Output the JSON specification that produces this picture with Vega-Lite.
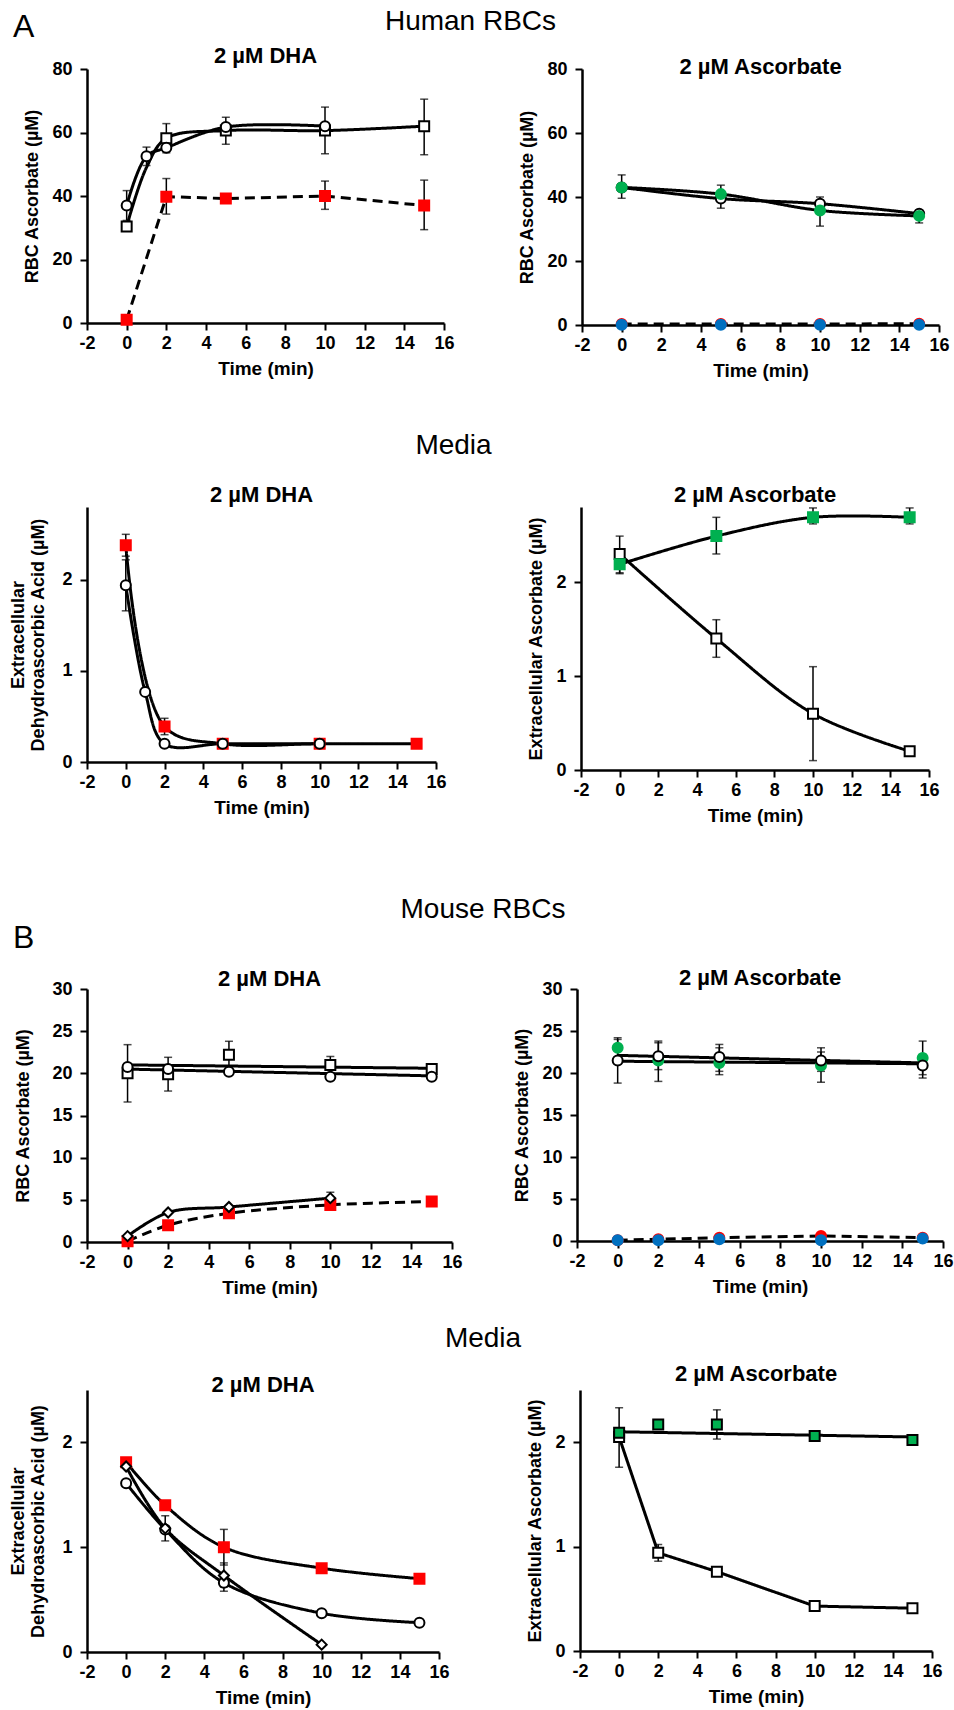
{
"$schema": "https://vega.github.io/schema/vega-lite/v6.json",
"background": "white",
"padding": {"left": 9, "top": 8, "right": 2, "bottom": 2},
"config": {
 "font": "Liberation Sans",
 "view": {"stroke": null},
 "axis": {"grid": false, "domainColor": "black", "domainWidth": 2.5, "tickColor": "black", "tickWidth": 2, "tickSize": 7,
  "labelFont": "Liberation Sans", "labelFontSize": 18, "labelFontWeight": "bold", "labelColor": "black", "labelFlush": false, "labelOverlap": false,
  "labelExpr": "'' + datum.value",
  "titleFont": "Liberation Sans", "titleFontSize": 18, "titleFontWeight": "bold", "titleColor": "black", "titleLineHeight": 20},
 "axisX": {"labelPadding": 4, "titlePadding": 7, "titleFontSize": 19},
 "axisY": {"labelPadding": 8, "titlePadding": 10},
 "title": {"font": "Liberation Sans", "fontSize": 22, "fontWeight": "bold", "color": "black", "offset": 3}
},
"datasets": {"d": [
 {"p":1,"s":"os","t":0,"y":30.4,"m":1,"l":"1os","i":"s","d":"solid"},
 {"p":1,"s":"os","t":1,"y":49,"m":0,"l":"1os","i":"s","d":"solid"},
 {"p":1,"s":"os","t":2,"y":58.2,"lo":53.6,"hi":62.8,"m":1,"l":"1os","i":"s","d":"solid"},
 {"p":1,"s":"os","t":5,"y":60.6,"lo":56.3,"hi":64.8,"m":1,"l":"1os","i":"s","d":"solid"},
 {"p":1,"s":"os","t":10,"y":60.6,"lo":53.3,"hi":68,"m":1,"l":"1os","i":"s","d":"solid"},
 {"p":1,"s":"os","t":15,"y":62,"lo":53,"hi":70.5,"m":1,"l":"1os","i":"s","d":"solid"},
 {"p":1,"s":"oc","t":0,"y":37,"lo":32.3,"hi":41.7,"m":1,"l":"1oc","i":"s","d":"solid"},
 {"p":1,"s":"oc","t":1,"y":52.5,"lo":49.6,"hi":55.4,"m":1,"l":"1oc","i":"s","d":"solid"},
 {"p":1,"s":"oc","t":2,"y":55.2,"m":1,"l":"1oc","i":"s","d":"solid"},
 {"p":1,"s":"oc","t":5,"y":61.7,"m":1,"l":"1oc","i":"s","d":"solid"},
 {"p":1,"s":"oc","t":10,"y":62,"m":1,"l":"1oc","i":"s","d":"solid"},
 {"p":1,"s":"rs","t":0,"y":1,"m":1,"l":"1rs","i":"l","d":"dash"},
 {"p":1,"s":"rs","t":2,"y":39.8,"lo":34.3,"hi":45.5,"m":1,"l":"1rs","i":"l","d":"dash"},
 {"p":1,"s":"rs","t":5,"y":39.2,"m":1,"l":"1rs","i":"l","d":"dash"},
 {"p":1,"s":"rs","t":10,"y":40,"lo":35.8,"hi":44.7,"m":1,"l":"1rs","i":"l","d":"dash"},
 {"p":1,"s":"rs","t":15,"y":37,"lo":29.4,"hi":45,"m":1,"l":"1rs","i":"l","d":"dash"},

 {"p":2,"s":"oc","t":0,"y":43,"m":1,"l":"2oc","i":"s","d":"solid"},
 {"p":2,"s":"oc","t":5,"y":39.5,"m":1,"l":"2oc","i":"s","d":"solid"},
 {"p":2,"s":"oc","t":10,"y":37.9,"m":1,"l":"2oc","i":"s","d":"solid"},
 {"p":2,"s":"oc","t":15,"y":34.8,"m":1,"l":"2oc","i":"s","d":"solid"},
 {"p":2,"s":"gc","t":0,"y":43,"lo":39.6,"hi":46.9,"m":1,"l":"2gc","i":"s","d":"solid"},
 {"p":2,"s":"gc","t":5,"y":40.9,"lo":36.5,"hi":43.7,"m":1,"l":"2gc","i":"s","d":"solid"},
 {"p":2,"s":"gc","t":10,"y":35.8,"lo":30.9,"hi":40,"m":1,"l":"2gc","i":"s","d":"solid"},
 {"p":2,"s":"gc","t":15,"y":34.1,"lo":31.9,"hi":35.8,"m":1,"l":"2gc","i":"s","d":"solid"},
 {"p":2,"s":"rc","t":0,"y":0.3,"m":1,"l":"2rc","i":"l","d":"dash"},
 {"p":2,"s":"rc","t":5,"y":0.3,"m":1,"l":"2rc","i":"l","d":"dash"},
 {"p":2,"s":"rc","t":10,"y":0.3,"m":1,"l":"2rc","i":"l","d":"dash"},
 {"p":2,"s":"rc","t":15,"y":0.4,"m":1,"l":"2rc","i":"l","d":"dash"},
 {"p":2,"s":"bc","t":0,"y":0.1,"m":1},
 {"p":2,"s":"bc","t":5,"y":0.1,"m":1},
 {"p":2,"s":"bc","t":10,"y":0.1,"m":1},
 {"p":2,"s":"bc","t":15,"y":0.1,"m":1},

 {"p":3,"s":"rs","t":0,"y":2.38,"lo":2.26,"hi":2.5,"m":1,"l":"3rs","i":"s","d":"solid"},
 {"p":3,"s":"rs","t":2,"y":0.39,"lo":0.3,"hi":0.48,"m":1,"l":"3rs","i":"s","d":"solid"},
 {"p":3,"s":"rs","t":5,"y":0.2,"m":1,"l":"3rs","i":"s","d":"solid"},
 {"p":3,"s":"rs","t":10,"y":0.2,"m":1,"l":"3rs","i":"s","d":"solid"},
 {"p":3,"s":"rs","t":15,"y":0.2,"m":1,"l":"3rs","i":"s","d":"solid"},
 {"p":3,"s":"oc","t":0,"y":1.94,"lo":1.66,"hi":2.22,"m":1,"l":"3oc","i":"s","d":"solid"},
 {"p":3,"s":"oc","t":1,"y":0.77,"m":1,"l":"3oc","i":"s","d":"solid"},
 {"p":3,"s":"oc","t":2,"y":0.2,"m":1,"l":"3oc","i":"s","d":"solid"},
 {"p":3,"s":"oc","t":5,"y":0.2,"m":1,"l":"3oc","i":"s","d":"solid"},
 {"p":3,"s":"oc","t":10,"y":0.2,"m":1,"l":"3oc","i":"s","d":"solid"},

 {"p":4,"s":"os","t":0,"y":2.3,"lo":2.1,"hi":2.49,"m":1,"l":"4os","i":"s","d":"solid"},
 {"p":4,"s":"os","t":5,"y":1.4,"lo":1.2,"hi":1.6,"m":1,"l":"4os","i":"s","d":"solid"},
 {"p":4,"s":"os","t":10,"y":0.6,"lo":0.1,"hi":1.1,"m":1,"l":"4os","i":"s","d":"solid"},
 {"p":4,"s":"os","t":15,"y":0.2,"m":1,"l":"4os","i":"s","d":"solid"},
 {"p":4,"s":"gs","t":0,"y":2.19,"lo":2.09,"hi":2.29,"m":1,"l":"4gs","i":"s","d":"solid"},
 {"p":4,"s":"gs","t":5,"y":2.49,"lo":2.3,"hi":2.69,"m":1,"l":"4gs","i":"s","d":"solid"},
 {"p":4,"s":"gs","t":10,"y":2.69,"lo":2.62,"hi":2.79,"m":1,"l":"4gs","i":"s","d":"solid"},
 {"p":4,"s":"gs","t":15,"y":2.69,"lo":2.62,"hi":2.79,"m":1,"l":"4gs","i":"s","d":"solid"},

 {"p":5,"s":"os","t":0,"y":21.0,"m":0,"l":"5a","i":"l","d":"solid"},
 {"p":5,"s":"os","t":15,"y":20.6,"m":0,"l":"5a","i":"l","d":"solid"},
 {"p":5,"s":"oc","t":0,"y":20.5,"m":0,"l":"5b","i":"l","d":"solid"},
 {"p":5,"s":"oc","t":15,"y":19.7,"m":0,"l":"5b","i":"l","d":"solid"},
 {"p":5,"s":"os","t":0,"y":20,"lo":16.6,"hi":23.4,"m":1},
 {"p":5,"s":"os","t":2,"y":19.9,"lo":17.9,"hi":21.9,"m":1},
 {"p":5,"s":"os","t":5,"y":22.2,"lo":20.6,"hi":23.8,"m":1},
 {"p":5,"s":"os","t":10,"y":21,"lo":20,"hi":22,"m":1},
 {"p":5,"s":"os","t":15,"y":20.5,"m":1},
 {"p":5,"s":"oc","t":0,"y":20.75,"m":1},
 {"p":5,"s":"oc","t":2,"y":20.5,"m":1},
 {"p":5,"s":"oc","t":5,"y":20.2,"m":1},
 {"p":5,"s":"oc","t":10,"y":19.6,"m":1},
 {"p":5,"s":"oc","t":15,"y":19.6,"m":1},
 {"p":5,"s":"rs","t":0,"y":0.1,"m":1,"l":"5rs","i":"s","d":"dash"},
 {"p":5,"s":"rs","t":2,"y":2.0,"m":1,"l":"5rs","i":"s","d":"dash"},
 {"p":5,"s":"rs","t":5,"y":3.4,"m":1,"l":"5rs","i":"s","d":"dash"},
 {"p":5,"s":"rs","t":10,"y":4.4,"m":1,"l":"5rs","i":"s","d":"dash"},
 {"p":5,"s":"rs","t":15,"y":4.8,"m":1,"l":"5rs","i":"s","d":"dash"},
 {"p":5,"s":"od","t":0,"y":0.7,"m":1,"l":"5od","i":"s","d":"solid"},
 {"p":5,"s":"od","t":2,"y":3.5,"m":1,"l":"5od","i":"s","d":"solid"},
 {"p":5,"s":"od","t":5,"y":4.15,"m":1,"l":"5od","i":"s","d":"solid"},
 {"p":5,"s":"od","t":10,"y":5.2,"lo":4.5,"hi":5.9,"m":1,"l":"5od","i":"s","d":"solid"},

 {"p":6,"s":"gc","t":0,"y":22.1,"m":0,"l":"6a","i":"l","d":"solid"},
 {"p":6,"s":"gc","t":15,"y":21.2,"m":0,"l":"6a","i":"l","d":"solid"},
 {"p":6,"s":"oc","t":0,"y":21.4,"m":0,"l":"6b","i":"l","d":"solid"},
 {"p":6,"s":"oc","t":15,"y":21.1,"m":0,"l":"6b","i":"l","d":"solid"},
 {"p":6,"s":"gc","t":0,"y":23.0,"lo":21.8,"hi":24.2,"m":1},
 {"p":6,"s":"gc","t":2,"y":21.5,"lo":19.0,"hi":23.8,"m":1},
 {"p":6,"s":"gc","t":5,"y":21.2,"lo":19.8,"hi":23.4,"m":1},
 {"p":6,"s":"gc","t":10,"y":20.9,"lo":18.9,"hi":23.0,"m":1},
 {"p":6,"s":"gc","t":15,"y":21.8,"lo":19.8,"hi":23.8,"m":1},
 {"p":6,"s":"oc","t":0,"y":21.5,"lo":18.8,"hi":24.0,"m":1},
 {"p":6,"s":"oc","t":2,"y":22.0,"lo":20.4,"hi":23.6,"m":1},
 {"p":6,"s":"oc","t":5,"y":21.9,"lo":20.2,"hi":23.0,"m":1},
 {"p":6,"s":"oc","t":10,"y":21.5,"lo":20.2,"hi":22.5,"m":1},
 {"p":6,"s":"oc","t":15,"y":20.9,"lo":19.4,"hi":22.2,"m":1},
 {"p":6,"s":"rc","t":0,"y":0.1,"m":1,"l":"6rc","i":"l","d":"dash"},
 {"p":6,"s":"rc","t":2,"y":0.2,"m":1,"l":"6rc","i":"l","d":"dash"},
 {"p":6,"s":"rc","t":5,"y":0.4,"m":1,"l":"6rc","i":"l","d":"dash"},
 {"p":6,"s":"rc","t":10,"y":0.6,"m":1,"l":"6rc","i":"l","d":"dash"},
 {"p":6,"s":"rc","t":15,"y":0.4,"m":1,"l":"6rc","i":"l","d":"dash"},
 {"p":6,"s":"bc","t":0,"y":0.1,"m":1},
 {"p":6,"s":"bc","t":2,"y":0.1,"m":1},
 {"p":6,"s":"bc","t":5,"y":0.2,"m":1},
 {"p":6,"s":"bc","t":10,"y":0.1,"m":1},
 {"p":6,"s":"bc","t":15,"y":0.3,"m":1},

 {"p":7,"s":"rs","t":0,"y":1.81,"m":1,"l":"7rs","i":"s","d":"solid"},
 {"p":7,"s":"rs","t":2,"y":1.40,"m":1,"l":"7rs","i":"s","d":"solid"},
 {"p":7,"s":"rs","t":5,"y":1.0,"lo":0.83,"hi":1.17,"m":1,"l":"7rs","i":"s","d":"solid"},
 {"p":7,"s":"rs","t":10,"y":0.80,"m":1,"l":"7rs","i":"s","d":"solid"},
 {"p":7,"s":"rs","t":15,"y":0.70,"m":1,"l":"7rs","i":"s","d":"solid"},
 {"p":7,"s":"oc","t":0,"y":1.61,"m":1,"l":"7oc","i":"s","d":"solid"},
 {"p":7,"s":"oc","t":2,"y":1.17,"lo":1.06,"hi":1.30,"m":1,"l":"7oc","i":"s","d":"solid"},
 {"p":7,"s":"oc","t":5,"y":0.66,"lo":0.58,"hi":0.74,"m":1,"l":"7oc","i":"s","d":"solid"},
 {"p":7,"s":"oc","t":10,"y":0.37,"m":1,"l":"7oc","i":"s","d":"solid"},
 {"p":7,"s":"oc","t":15,"y":0.28,"m":1,"l":"7oc","i":"s","d":"solid"},
 {"p":7,"s":"od","t":0,"y":1.77,"m":1,"l":"7od","i":"s","d":"solid"},
 {"p":7,"s":"od","t":2,"y":1.18,"m":1,"l":"7od","i":"s","d":"solid"},
 {"p":7,"s":"od","t":5,"y":0.73,"lo":0.62,"hi":0.85,"m":1,"l":"7od","i":"s","d":"solid"},
 {"p":7,"s":"od","t":10,"y":0.07,"m":1,"l":"7od","i":"s","d":"solid"},

 {"p":8,"s":"os","t":0,"y":2.05,"lo":1.76,"hi":2.33,"m":1,"l":"8os","i":"l","d":"solid"},
 {"p":8,"s":"os","t":2,"y":0.94,"lo":0.86,"hi":1.02,"m":1,"l":"8os","i":"l","d":"solid"},
 {"p":8,"s":"os","t":5,"y":0.76,"m":1,"l":"8os","i":"l","d":"solid"},
 {"p":8,"s":"os","t":10,"y":0.43,"m":1,"l":"8os","i":"l","d":"solid"},
 {"p":8,"s":"os","t":15,"y":0.41,"m":1,"l":"8os","i":"l","d":"solid"},
 {"p":8,"s":"gsb","t":0,"y":2.1,"m":0,"l":"8g","i":"l","d":"solid"},
 {"p":8,"s":"gsb","t":15,"y":2.05,"m":0,"l":"8g","i":"l","d":"solid"},
 {"p":8,"s":"gsb","t":0,"y":2.09,"m":1},
 {"p":8,"s":"gsb","t":2,"y":2.17,"lo":2.14,"hi":2.2,"m":1},
 {"p":8,"s":"gsb","t":5,"y":2.17,"lo":2.03,"hi":2.31,"m":1},
 {"p":8,"s":"gsb","t":10,"y":2.06,"m":1},
 {"p":8,"s":"gsb","t":15,"y":2.02,"m":1}
]},
"spacing": 71,
"vconcat": [
 {
  "title": {"text": "A", "anchor": "start", "fontSize": 32, "fontWeight": "normal", "offset": -36, "dx": 3},
  "spacing": 52,
  "vconcat": [
   {
    "title": {"text": "Human RBCs", "anchor": "middle", "fontSize": 28, "fontWeight": "normal", "offset": 9, "dx": -16},
    "bounds": "flush",
    "spacing": 138,
    "hconcat": [
     {
      "width": 357, "height": 254,
      "title": {"text": "2 µM DHA", "offset": -8},
      "data": {"name": "d"},
      "transform": [{"filter": "datum.p == 1"}],
      "encoding": {
       "x": {"field": "t", "type": "quantitative", "scale": {"domain": [-2, 16], "nice": false, "zero": false}, "axis": {"values": [-2,0,2,4,6,8,10,12,14,16], "title": "Time (min)"}},
       "y": {"field": "y", "type": "quantitative", "scale": {"domain": [0, 80], "nice": false}, "axis": {"values": [0,20,40,60,80], "title": "RBC Ascorbate (µM)", "titlePadding": 10}}
      },
      "layer": [
       {"transform": [{"filter": "datum.l != null && datum.i == 's'"}], "mark": {"type": "line", "interpolate": "catmull-rom", "color": "black", "strokeWidth": 3}, "encoding": {"detail": {"field": "l"}, "strokeDash": {"field": "d", "type": "nominal", "scale": {"domain": ["solid", "dash"], "range": [[1, 0], [10, 6]]}, "legend": null}}},
       {"transform": [{"filter": "datum.l != null && datum.i == 'l'"}], "mark": {"type": "line", "color": "black", "strokeWidth": 3}, "encoding": {"detail": {"field": "l"}, "strokeDash": {"field": "d", "type": "nominal", "scale": {"domain": ["solid", "dash"], "range": [[1, 0], [10, 6]]}, "legend": null}}},
       {"transform": [{"filter": "datum.lo != null"}], "mark": {"type": "rule", "color": "black", "strokeWidth": 1.5}, "encoding": {"y": {"field": "lo", "type": "quantitative", "scale": {"domain": [0, 80], "nice": false}, "axis": {"values": [0,20,40,60,80], "title": "RBC Ascorbate (µM)", "titlePadding": 10}}, "y2": {"field": "hi"}}},
       {"transform": [{"filter": "datum.lo != null"}], "mark": {"type": "tick", "orient": "horizontal", "color": "black", "size": 8, "thickness": 1.5}, "encoding": {"y": {"field": "lo", "type": "quantitative", "scale": {"domain": [0, 80], "nice": false}, "axis": {"values": [0,20,40,60,80], "title": "RBC Ascorbate (µM)", "titlePadding": 10}}}},
       {"transform": [{"filter": "datum.lo != null"}], "mark": {"type": "tick", "orient": "horizontal", "color": "black", "size": 8, "thickness": 1.5}, "encoding": {"y": {"field": "hi", "type": "quantitative", "scale": {"domain": [0, 80], "nice": false}, "axis": {"values": [0,20,40,60,80], "title": "RBC Ascorbate (µM)", "titlePadding": 10}}}},
       {"transform": [{"filter": "datum.m == 1"}], "mark": {"type": "point", "filled": true, "opacity": 1, "strokeWidth": 2}, "encoding": {
         "shape": {"field": "s", "type": "nominal", "scale": {"domain": ["oc","os","od","rs","gc","gs","gsb","rc","bc"], "range": ["circle","square","diamond","square","circle","square","square","circle","circle"]}, "legend": null},
         "fill": {"field": "s", "type": "nominal", "scale": {"domain": ["oc","os","od","rs","gc","gs","gsb","rc","bc"], "range": ["white","white","white","#ff0000","#00b050","#00b050","#00b050","#ff0000","#0070c0"]}, "legend": null},
         "stroke": {"field": "s", "type": "nominal", "scale": {"domain": ["oc","os","od","rs","gc","gs","gsb","rc","bc"], "range": ["black","black","black","#ff0000","#00b050","#00b050","black","#ff0000","#0070c0"]}, "legend": null},
         "size": {"field": "s", "type": "ordinal", "scale": {"domain": ["oc","os","od","rs","gc","gs","gsb","rc","bc"], "range": [100,100,75,170,135,170,144,115,100]}, "legend": null}}}
      ]
     },
     {
      "width": 357, "height": 256,
      "title": {"text": "2 µM Ascorbate", "offset": -19},
      "data": {"name": "d"},
      "transform": [{"filter": "datum.p == 2"}],
      "encoding": {
       "x": {"field": "t", "type": "quantitative", "scale": {"domain": [-2, 16], "nice": false, "zero": false}, "axis": {"values": [-2,0,2,4,6,8,10,12,14,16], "title": "Time (min)"}},
       "y": {"field": "y", "type": "quantitative", "scale": {"domain": [0, 80], "nice": false}, "axis": {"values": [0,20,40,60,80], "title": "RBC Ascorbate (µM)"}}
      },
      "layer": [
       {"transform": [{"filter": "datum.l != null && datum.i == 's'"}], "mark": {"type": "line", "interpolate": "catmull-rom", "color": "black", "strokeWidth": 3}, "encoding": {"detail": {"field": "l"}, "strokeDash": {"field": "d", "type": "nominal", "scale": {"domain": ["solid", "dash"], "range": [[1, 0], [10, 6]]}, "legend": null}}},
       {"transform": [{"filter": "datum.l != null && datum.i == 'l'"}], "mark": {"type": "line", "color": "black", "strokeWidth": 3}, "encoding": {"detail": {"field": "l"}, "strokeDash": {"field": "d", "type": "nominal", "scale": {"domain": ["solid", "dash"], "range": [[1, 0], [10, 6]]}, "legend": null}}},
       {"transform": [{"filter": "datum.lo != null"}], "mark": {"type": "rule", "color": "black", "strokeWidth": 1.5}, "encoding": {"y": {"field": "lo", "type": "quantitative", "scale": {"domain": [0, 80], "nice": false}, "axis": {"values": [0,20,40,60,80], "title": "RBC Ascorbate (µM)"}}, "y2": {"field": "hi"}}},
       {"transform": [{"filter": "datum.lo != null"}], "mark": {"type": "tick", "orient": "horizontal", "color": "black", "size": 8, "thickness": 1.5}, "encoding": {"y": {"field": "lo", "type": "quantitative", "scale": {"domain": [0, 80], "nice": false}, "axis": {"values": [0,20,40,60,80], "title": "RBC Ascorbate (µM)"}}}},
       {"transform": [{"filter": "datum.lo != null"}], "mark": {"type": "tick", "orient": "horizontal", "color": "black", "size": 8, "thickness": 1.5}, "encoding": {"y": {"field": "hi", "type": "quantitative", "scale": {"domain": [0, 80], "nice": false}, "axis": {"values": [0,20,40,60,80], "title": "RBC Ascorbate (µM)"}}}},
       {"transform": [{"filter": "datum.m == 1"}], "mark": {"type": "point", "filled": true, "opacity": 1, "strokeWidth": 2}, "encoding": {
         "shape": {"field": "s", "type": "nominal", "scale": {"domain": ["oc","os","od","rs","gc","gs","gsb","rc","bc"], "range": ["circle","square","diamond","square","circle","square","square","circle","circle"]}, "legend": null},
         "fill": {"field": "s", "type": "nominal", "scale": {"domain": ["oc","os","od","rs","gc","gs","gsb","rc","bc"], "range": ["white","white","white","#ff0000","#00b050","#00b050","#00b050","#ff0000","#0070c0"]}, "legend": null},
         "stroke": {"field": "s", "type": "nominal", "scale": {"domain": ["oc","os","od","rs","gc","gs","gsb","rc","bc"], "range": ["black","black","black","#ff0000","#00b050","#00b050","black","#ff0000","#0070c0"]}, "legend": null},
         "size": {"field": "s", "type": "ordinal", "scale": {"domain": ["oc","os","od","rs","gc","gs","gsb","rc","bc"], "range": [100,100,75,170,135,170,144,115,100]}, "legend": null}}}
      ]
     }
    ]
   },
   {
    "title": {"text": "Media", "anchor": "middle", "fontSize": 28, "fontWeight": "normal", "offset": 24, "dx": -21},
    "bounds": "flush",
    "spacing": 145,
    "hconcat": [
     {
      "width": 349, "height": 255,
      "title": {"text": "2 µM DHA", "offset": 0},
      "data": {"name": "d"},
      "transform": [{"filter": "datum.p == 3"}],
      "encoding": {
       "x": {"field": "t", "type": "quantitative", "scale": {"domain": [-2, 16], "nice": false, "zero": false}, "axis": {"values": [-2,0,2,4,6,8,10,12,14,16], "title": "Time (min)"}},
       "y": {"field": "y", "type": "quantitative", "scale": {"domain": [0, 2.8], "nice": false}, "axis": {"values": [0,1,2], "title": ["Extracellular", "Dehydroascorbic Acid (µM)"], "titlePadding": 14}}
      },
      "layer": [
       {"transform": [{"filter": "datum.l != null && datum.i == 's'"}], "mark": {"type": "line", "interpolate": "catmull-rom", "color": "black", "strokeWidth": 3}, "encoding": {"detail": {"field": "l"}, "strokeDash": {"field": "d", "type": "nominal", "scale": {"domain": ["solid", "dash"], "range": [[1, 0], [10, 6]]}, "legend": null}}},
       {"transform": [{"filter": "datum.lo != null"}], "mark": {"type": "rule", "color": "black", "strokeWidth": 1.5}, "encoding": {"y": {"field": "lo", "type": "quantitative", "scale": {"domain": [0, 2.8], "nice": false}, "axis": {"values": [0,1,2], "title": ["Extracellular", "Dehydroascorbic Acid (µM)"], "titlePadding": 14}}, "y2": {"field": "hi"}}},
       {"transform": [{"filter": "datum.lo != null"}], "mark": {"type": "tick", "orient": "horizontal", "color": "black", "size": 8, "thickness": 1.5}, "encoding": {"y": {"field": "lo", "type": "quantitative", "scale": {"domain": [0, 2.8], "nice": false}, "axis": {"values": [0,1,2], "title": ["Extracellular", "Dehydroascorbic Acid (µM)"], "titlePadding": 14}}}},
       {"transform": [{"filter": "datum.lo != null"}], "mark": {"type": "tick", "orient": "horizontal", "color": "black", "size": 8, "thickness": 1.5}, "encoding": {"y": {"field": "hi", "type": "quantitative", "scale": {"domain": [0, 2.8], "nice": false}, "axis": {"values": [0,1,2], "title": ["Extracellular", "Dehydroascorbic Acid (µM)"], "titlePadding": 14}}}},
       {"transform": [{"filter": "datum.m == 1"}], "mark": {"type": "point", "filled": true, "opacity": 1, "strokeWidth": 2}, "encoding": {
         "shape": {"field": "s", "type": "nominal", "scale": {"domain": ["oc","os","od","rs","gc","gs","gsb","rc","bc"], "range": ["circle","square","diamond","square","circle","square","square","circle","circle"]}, "legend": null},
         "fill": {"field": "s", "type": "nominal", "scale": {"domain": ["oc","os","od","rs","gc","gs","gsb","rc","bc"], "range": ["white","white","white","#ff0000","#00b050","#00b050","#00b050","#ff0000","#0070c0"]}, "legend": null},
         "stroke": {"field": "s", "type": "nominal", "scale": {"domain": ["oc","os","od","rs","gc","gs","gsb","rc","bc"], "range": ["black","black","black","#ff0000","#00b050","#00b050","black","#ff0000","#0070c0"]}, "legend": null},
         "size": {"field": "s", "type": "ordinal", "scale": {"domain": ["oc","os","od","rs","gc","gs","gsb","rc","bc"], "range": [100,100,75,170,135,170,144,115,100]}, "legend": null}}}
      ]
     },
     {
      "width": 348, "height": 263,
      "title": {"text": "2 µM Ascorbate", "offset": 0},
      "data": {"name": "d"},
      "transform": [{"filter": "datum.p == 4"}],
      "encoding": {
       "x": {"field": "t", "type": "quantitative", "scale": {"domain": [-2, 16], "nice": false, "zero": false}, "axis": {"values": [-2,0,2,4,6,8,10,12,14,16], "title": "Time (min)"}},
       "y": {"field": "y", "type": "quantitative", "scale": {"domain": [0, 2.8], "nice": false}, "axis": {"values": [0,1,2], "title": "Extracellular Ascorbate (µM)"}}
      },
      "layer": [
       {"transform": [{"filter": "datum.l != null && datum.i == 's'"}], "mark": {"type": "line", "interpolate": "catmull-rom", "color": "black", "strokeWidth": 3}, "encoding": {"detail": {"field": "l"}, "strokeDash": {"field": "d", "type": "nominal", "scale": {"domain": ["solid", "dash"], "range": [[1, 0], [10, 6]]}, "legend": null}}},
       {"transform": [{"filter": "datum.lo != null"}], "mark": {"type": "rule", "color": "black", "strokeWidth": 1.5}, "encoding": {"y": {"field": "lo", "type": "quantitative", "scale": {"domain": [0, 2.8], "nice": false}, "axis": {"values": [0,1,2], "title": "Extracellular Ascorbate (µM)"}}, "y2": {"field": "hi"}}},
       {"transform": [{"filter": "datum.lo != null"}], "mark": {"type": "tick", "orient": "horizontal", "color": "black", "size": 8, "thickness": 1.5}, "encoding": {"y": {"field": "lo", "type": "quantitative", "scale": {"domain": [0, 2.8], "nice": false}, "axis": {"values": [0,1,2], "title": "Extracellular Ascorbate (µM)"}}}},
       {"transform": [{"filter": "datum.lo != null"}], "mark": {"type": "tick", "orient": "horizontal", "color": "black", "size": 8, "thickness": 1.5}, "encoding": {"y": {"field": "hi", "type": "quantitative", "scale": {"domain": [0, 2.8], "nice": false}, "axis": {"values": [0,1,2], "title": "Extracellular Ascorbate (µM)"}}}},
       {"transform": [{"filter": "datum.m == 1"}], "mark": {"type": "point", "filled": true, "opacity": 1, "strokeWidth": 2}, "encoding": {
         "shape": {"field": "s", "type": "nominal", "scale": {"domain": ["oc","os","od","rs","gc","gs","gsb","rc","bc"], "range": ["circle","square","diamond","square","circle","square","square","circle","circle"]}, "legend": null},
         "fill": {"field": "s", "type": "nominal", "scale": {"domain": ["oc","os","od","rs","gc","gs","gsb","rc","bc"], "range": ["white","white","white","#ff0000","#00b050","#00b050","#00b050","#ff0000","#0070c0"]}, "legend": null},
         "stroke": {"field": "s", "type": "nominal", "scale": {"domain": ["oc","os","od","rs","gc","gs","gsb","rc","bc"], "range": ["black","black","black","#ff0000","#00b050","#00b050","black","#ff0000","#0070c0"]}, "legend": null},
         "size": {"field": "s", "type": "ordinal", "scale": {"domain": ["oc","os","od","rs","gc","gs","gsb","rc","bc"], "range": [100,100,75,170,135,170,144,115,100]}, "legend": null}}}
      ]
     }
    ]
   }
  ]
 },
 {
  "title": {"text": "B", "anchor": "start", "fontSize": 32, "fontWeight": "normal", "offset": -59, "dx": 3},
  "spacing": 28,
  "vconcat": [
   {
    "title": {"text": "Mouse RBCs", "anchor": "middle", "fontSize": 28, "fontWeight": "normal", "offset": 43, "dx": -1},
    "bounds": "flush",
    "spacing": 125,
    "hconcat": [
     {
      "width": 365, "height": 253,
      "title": {"text": "2 µM DHA", "offset": -11},
      "data": {"name": "d"},
      "transform": [{"filter": "datum.p == 5"}],
      "encoding": {
       "x": {"field": "t", "type": "quantitative", "scale": {"domain": [-2, 16], "nice": false, "zero": false}, "axis": {"values": [-2,0,2,4,6,8,10,12,14,16], "title": "Time (min)"}},
       "y": {"field": "y", "type": "quantitative", "scale": {"domain": [0, 30], "nice": false}, "axis": {"values": [0,5,10,15,20,25,30], "title": "RBC Ascorbate (µM)", "titlePadding": 19}}
      },
      "layer": [
       {"transform": [{"filter": "datum.l != null && datum.i == 's'"}], "mark": {"type": "line", "interpolate": "catmull-rom", "color": "black", "strokeWidth": 3}, "encoding": {"detail": {"field": "l"}, "strokeDash": {"field": "d", "type": "nominal", "scale": {"domain": ["solid", "dash"], "range": [[1, 0], [10, 6]]}, "legend": null}}},
       {"transform": [{"filter": "datum.l != null && datum.i == 'l'"}], "mark": {"type": "line", "color": "black", "strokeWidth": 3}, "encoding": {"detail": {"field": "l"}, "strokeDash": {"field": "d", "type": "nominal", "scale": {"domain": ["solid", "dash"], "range": [[1, 0], [10, 6]]}, "legend": null}}},
       {"transform": [{"filter": "datum.lo != null"}], "mark": {"type": "rule", "color": "black", "strokeWidth": 1.5}, "encoding": {"y": {"field": "lo", "type": "quantitative", "scale": {"domain": [0, 30], "nice": false}, "axis": {"values": [0,5,10,15,20,25,30], "title": "RBC Ascorbate (µM)", "titlePadding": 19}}, "y2": {"field": "hi"}}},
       {"transform": [{"filter": "datum.lo != null"}], "mark": {"type": "tick", "orient": "horizontal", "color": "black", "size": 8, "thickness": 1.5}, "encoding": {"y": {"field": "lo", "type": "quantitative", "scale": {"domain": [0, 30], "nice": false}, "axis": {"values": [0,5,10,15,20,25,30], "title": "RBC Ascorbate (µM)", "titlePadding": 19}}}},
       {"transform": [{"filter": "datum.lo != null"}], "mark": {"type": "tick", "orient": "horizontal", "color": "black", "size": 8, "thickness": 1.5}, "encoding": {"y": {"field": "hi", "type": "quantitative", "scale": {"domain": [0, 30], "nice": false}, "axis": {"values": [0,5,10,15,20,25,30], "title": "RBC Ascorbate (µM)", "titlePadding": 19}}}},
       {"transform": [{"filter": "datum.m == 1"}], "mark": {"type": "point", "filled": true, "opacity": 1, "strokeWidth": 2}, "encoding": {
         "shape": {"field": "s", "type": "nominal", "scale": {"domain": ["oc","os","od","rs","gc","gs","gsb","rc","bc"], "range": ["circle","square","diamond","square","circle","square","square","circle","circle"]}, "legend": null},
         "fill": {"field": "s", "type": "nominal", "scale": {"domain": ["oc","os","od","rs","gc","gs","gsb","rc","bc"], "range": ["white","white","white","#ff0000","#00b050","#00b050","#00b050","#ff0000","#0070c0"]}, "legend": null},
         "stroke": {"field": "s", "type": "nominal", "scale": {"domain": ["oc","os","od","rs","gc","gs","gsb","rc","bc"], "range": ["black","black","black","#ff0000","#00b050","#00b050","black","#ff0000","#0070c0"]}, "legend": null},
         "size": {"field": "s", "type": "ordinal", "scale": {"domain": ["oc","os","od","rs","gc","gs","gsb","rc","bc"], "range": [100,100,75,170,135,170,144,115,100]}, "legend": null}}}
      ]
     },
     {
      "width": 366, "height": 252,
      "title": {"text": "2 µM Ascorbate", "offset": -10},
      "data": {"name": "d"},
      "transform": [{"filter": "datum.p == 6"}],
      "encoding": {
       "x": {"field": "t", "type": "quantitative", "scale": {"domain": [-2, 16], "nice": false, "zero": false}, "axis": {"values": [-2,0,2,4,6,8,10,12,14,16], "title": "Time (min)"}},
       "y": {"field": "y", "type": "quantitative", "scale": {"domain": [0, 30], "nice": false}, "axis": {"values": [0,5,10,15,20,25,30], "title": "RBC Ascorbate (µM)"}}
      },
      "layer": [
       {"transform": [{"filter": "datum.l != null && datum.i == 'l'"}], "mark": {"type": "line", "color": "black", "strokeWidth": 3}, "encoding": {"detail": {"field": "l"}, "strokeDash": {"field": "d", "type": "nominal", "scale": {"domain": ["solid", "dash"], "range": [[1, 0], [10, 6]]}, "legend": null}}},
       {"transform": [{"filter": "datum.lo != null"}], "mark": {"type": "rule", "color": "black", "strokeWidth": 1.5}, "encoding": {"y": {"field": "lo", "type": "quantitative", "scale": {"domain": [0, 30], "nice": false}, "axis": {"values": [0,5,10,15,20,25,30], "title": "RBC Ascorbate (µM)"}}, "y2": {"field": "hi"}}},
       {"transform": [{"filter": "datum.lo != null"}], "mark": {"type": "tick", "orient": "horizontal", "color": "black", "size": 8, "thickness": 1.5}, "encoding": {"y": {"field": "lo", "type": "quantitative", "scale": {"domain": [0, 30], "nice": false}, "axis": {"values": [0,5,10,15,20,25,30], "title": "RBC Ascorbate (µM)"}}}},
       {"transform": [{"filter": "datum.lo != null"}], "mark": {"type": "tick", "orient": "horizontal", "color": "black", "size": 8, "thickness": 1.5}, "encoding": {"y": {"field": "hi", "type": "quantitative", "scale": {"domain": [0, 30], "nice": false}, "axis": {"values": [0,5,10,15,20,25,30], "title": "RBC Ascorbate (µM)"}}}},
       {"transform": [{"filter": "datum.m == 1"}], "mark": {"type": "point", "filled": true, "opacity": 1, "strokeWidth": 2}, "encoding": {
         "shape": {"field": "s", "type": "nominal", "scale": {"domain": ["oc","os","od","rs","gc","gs","gsb","rc","bc"], "range": ["circle","square","diamond","square","circle","square","square","circle","circle"]}, "legend": null},
         "fill": {"field": "s", "type": "nominal", "scale": {"domain": ["oc","os","od","rs","gc","gs","gsb","rc","bc"], "range": ["white","white","white","#ff0000","#00b050","#00b050","#00b050","#ff0000","#0070c0"]}, "legend": null},
         "stroke": {"field": "s", "type": "nominal", "scale": {"domain": ["oc","os","od","rs","gc","gs","gsb","rc","bc"], "range": ["black","black","black","#ff0000","#00b050","#00b050","black","#ff0000","#0070c0"]}, "legend": null},
         "size": {"field": "s", "type": "ordinal", "scale": {"domain": ["oc","os","od","rs","gc","gs","gsb","rc","bc"], "range": [100,100,75,170,135,170,144,115,100]}, "legend": null}}}
      ]
     }
    ]
   },
   {
    "title": {"text": "Media", "anchor": "middle", "fontSize": 28, "fontWeight": "normal", "offset": 10, "dx": 7},
    "bounds": "flush",
    "spacing": 141,
    "hconcat": [
     {
      "width": 352, "height": 262,
      "title": {"text": "2 µM DHA", "offset": -7},
      "data": {"name": "d"},
      "transform": [{"filter": "datum.p == 7"}],
      "encoding": {
       "x": {"field": "t", "type": "quantitative", "scale": {"domain": [-2, 16], "nice": false, "zero": false}, "axis": {"values": [-2,0,2,4,6,8,10,12,14,16], "title": "Time (min)"}},
       "y": {"field": "y", "type": "quantitative", "scale": {"domain": [0, 2.5], "nice": false}, "axis": {"values": [0,1,2], "title": ["Extracellular", "Dehydroascorbic Acid (µM)"], "titlePadding": 14}}
      },
      "layer": [
       {"transform": [{"filter": "datum.l != null && datum.i == 's'"}], "mark": {"type": "line", "interpolate": "catmull-rom", "color": "black", "strokeWidth": 3}, "encoding": {"detail": {"field": "l"}, "strokeDash": {"field": "d", "type": "nominal", "scale": {"domain": ["solid", "dash"], "range": [[1, 0], [10, 6]]}, "legend": null}}},
       {"transform": [{"filter": "datum.lo != null"}], "mark": {"type": "rule", "color": "black", "strokeWidth": 1.5}, "encoding": {"y": {"field": "lo", "type": "quantitative", "scale": {"domain": [0, 2.5], "nice": false}, "axis": {"values": [0,1,2], "title": ["Extracellular", "Dehydroascorbic Acid (µM)"], "titlePadding": 14}}, "y2": {"field": "hi"}}},
       {"transform": [{"filter": "datum.lo != null"}], "mark": {"type": "tick", "orient": "horizontal", "color": "black", "size": 8, "thickness": 1.5}, "encoding": {"y": {"field": "lo", "type": "quantitative", "scale": {"domain": [0, 2.5], "nice": false}, "axis": {"values": [0,1,2], "title": ["Extracellular", "Dehydroascorbic Acid (µM)"], "titlePadding": 14}}}},
       {"transform": [{"filter": "datum.lo != null"}], "mark": {"type": "tick", "orient": "horizontal", "color": "black", "size": 8, "thickness": 1.5}, "encoding": {"y": {"field": "hi", "type": "quantitative", "scale": {"domain": [0, 2.5], "nice": false}, "axis": {"values": [0,1,2], "title": ["Extracellular", "Dehydroascorbic Acid (µM)"], "titlePadding": 14}}}},
       {"transform": [{"filter": "datum.m == 1"}], "mark": {"type": "point", "filled": true, "opacity": 1, "strokeWidth": 2}, "encoding": {
         "shape": {"field": "s", "type": "nominal", "scale": {"domain": ["oc","os","od","rs","gc","gs","gsb","rc","bc"], "range": ["circle","square","diamond","square","circle","square","square","circle","circle"]}, "legend": null},
         "fill": {"field": "s", "type": "nominal", "scale": {"domain": ["oc","os","od","rs","gc","gs","gsb","rc","bc"], "range": ["white","white","white","#ff0000","#00b050","#00b050","#00b050","#ff0000","#0070c0"]}, "legend": null},
         "stroke": {"field": "s", "type": "nominal", "scale": {"domain": ["oc","os","od","rs","gc","gs","gsb","rc","bc"], "range": ["black","black","black","#ff0000","#00b050","#00b050","black","#ff0000","#0070c0"]}, "legend": null},
         "size": {"field": "s", "type": "ordinal", "scale": {"domain": ["oc","os","od","rs","gc","gs","gsb","rc","bc"], "range": [100,100,75,170,135,170,144,115,100]}, "legend": null}}}
      ]
     },
     {
      "width": 352, "height": 261,
      "title": {"text": "2 µM Ascorbate", "offset": 4},
      "data": {"name": "d"},
      "transform": [{"filter": "datum.p == 8"}],
      "encoding": {
       "x": {"field": "t", "type": "quantitative", "scale": {"domain": [-2, 16], "nice": false, "zero": false}, "axis": {"values": [-2,0,2,4,6,8,10,12,14,16], "title": "Time (min)"}},
       "y": {"field": "y", "type": "quantitative", "scale": {"domain": [0, 2.5], "nice": false}, "axis": {"values": [0,1,2], "title": "Extracellular Ascorbate (µM)"}}
      },
      "layer": [
       {"transform": [{"filter": "datum.l != null && datum.i == 'l'"}], "mark": {"type": "line", "color": "black", "strokeWidth": 3}, "encoding": {"detail": {"field": "l"}, "strokeDash": {"field": "d", "type": "nominal", "scale": {"domain": ["solid", "dash"], "range": [[1, 0], [10, 6]]}, "legend": null}}},
       {"transform": [{"filter": "datum.lo != null"}], "mark": {"type": "rule", "color": "black", "strokeWidth": 1.5}, "encoding": {"y": {"field": "lo", "type": "quantitative", "scale": {"domain": [0, 2.5], "nice": false}, "axis": {"values": [0,1,2], "title": "Extracellular Ascorbate (µM)"}}, "y2": {"field": "hi"}}},
       {"transform": [{"filter": "datum.lo != null"}], "mark": {"type": "tick", "orient": "horizontal", "color": "black", "size": 8, "thickness": 1.5}, "encoding": {"y": {"field": "lo", "type": "quantitative", "scale": {"domain": [0, 2.5], "nice": false}, "axis": {"values": [0,1,2], "title": "Extracellular Ascorbate (µM)"}}}},
       {"transform": [{"filter": "datum.lo != null"}], "mark": {"type": "tick", "orient": "horizontal", "color": "black", "size": 8, "thickness": 1.5}, "encoding": {"y": {"field": "hi", "type": "quantitative", "scale": {"domain": [0, 2.5], "nice": false}, "axis": {"values": [0,1,2], "title": "Extracellular Ascorbate (µM)"}}}},
       {"transform": [{"filter": "datum.m == 1"}], "mark": {"type": "point", "filled": true, "opacity": 1, "strokeWidth": 2}, "encoding": {
         "shape": {"field": "s", "type": "nominal", "scale": {"domain": ["oc","os","od","rs","gc","gs","gsb","rc","bc"], "range": ["circle","square","diamond","square","circle","square","square","circle","circle"]}, "legend": null},
         "fill": {"field": "s", "type": "nominal", "scale": {"domain": ["oc","os","od","rs","gc","gs","gsb","rc","bc"], "range": ["white","white","white","#ff0000","#00b050","#00b050","#00b050","#ff0000","#0070c0"]}, "legend": null},
         "stroke": {"field": "s", "type": "nominal", "scale": {"domain": ["oc","os","od","rs","gc","gs","gsb","rc","bc"], "range": ["black","black","black","#ff0000","#00b050","#00b050","black","#ff0000","#0070c0"]}, "legend": null},
         "size": {"field": "s", "type": "ordinal", "scale": {"domain": ["oc","os","od","rs","gc","gs","gsb","rc","bc"], "range": [100,100,75,170,135,170,144,115,100]}, "legend": null}}}
      ]
     }
    ]
   }
  ]
 }
]
}
